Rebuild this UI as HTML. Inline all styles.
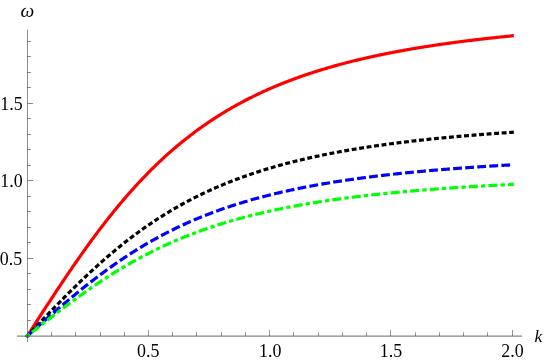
<!DOCTYPE html>
<html><head><meta charset="utf-8"><title>plot</title>
<style>
html,body{margin:0;padding:0;background:#fff;}
body{width:545px;height:361px;overflow:hidden;font-family:"Liberation Serif",serif;}
svg{display:block;will-change:transform;}
.lbl text{font-family:"Liberation Serif",serif;font-size:17.9px;}
.lbl text.it{font-style:italic;font-size:17.5px;}
</style></head><body>
<svg width="545" height="361" viewBox="0 0 545 361">
<rect width="545" height="361" fill="#fff"/>
<path d="M27.45,335.80 L28.42,334.29 L29.39,332.78 L30.36,331.27 L31.33,329.76 L32.30,328.25 L33.27,326.75 L34.24,325.24 L35.21,323.73 L36.18,322.22 L37.15,320.72 L38.12,319.21 L39.09,317.71 L40.05,316.21 L41.02,314.71 L41.99,313.21 L42.96,311.71 L43.93,310.21 L44.90,308.72 L45.87,307.23 L46.84,305.73 L47.81,304.24 L48.78,302.76 L49.75,301.27 L50.72,299.79 L51.69,298.31 L52.66,296.83 L53.63,295.35 L54.60,293.88 L55.57,292.41 L56.54,290.94 L57.51,289.47 L58.48,288.01 L59.45,286.55 L60.42,285.09 L61.39,283.64 L62.36,282.19 L63.33,280.74 L64.29,279.30 L65.26,277.85 L66.23,276.42 L67.20,274.98 L68.17,273.55 L69.14,272.13 L70.11,270.70 L71.08,269.29 L72.05,267.87 L73.02,266.46 L73.99,265.05 L74.96,263.65 L75.93,262.25 L76.90,260.86 L77.87,259.47 L78.84,258.08 L79.81,256.70 L80.78,255.32 L81.75,253.95 L82.72,252.58 L83.69,251.22 L84.66,249.86 L85.63,248.51 L86.60,247.16 L87.57,245.82 L88.53,244.48 L89.50,243.14 L90.47,241.81 L91.44,240.49 L92.41,239.17 L93.38,237.86 L94.35,236.55 L95.32,235.25 L96.29,233.95 L97.26,232.66 L98.23,231.37 L99.20,230.09 L100.17,228.81 L101.14,227.54 L102.11,226.27 L103.08,225.01 L104.05,223.76 L105.02,222.51 L105.99,221.27 L106.96,220.03 L107.93,218.80 L108.90,217.57 L109.87,216.35 L110.84,215.14 L111.81,213.93 L112.77,212.72 L113.74,211.53 L114.71,210.34 L115.68,209.15 L116.65,207.97 L117.62,206.80 L118.59,205.63 L119.56,204.47 L120.53,203.31 L121.50,202.16 L122.47,201.01 L123.44,199.88 L124.41,198.74 L125.38,197.62 L126.35,196.50 L127.32,195.38 L128.29,194.27 L129.26,193.17 L130.23,192.07 L131.20,190.98 L132.17,189.90 L133.14,188.82 L134.11,187.75 L135.08,186.68 L136.05,185.62 L137.01,184.56 L137.98,183.51 L138.95,182.47 L139.92,181.43 L140.89,180.40 L141.86,179.38 L142.83,178.36 L143.80,177.35 L144.77,176.34 L145.74,175.34 L146.71,174.34 L147.68,173.35 L148.65,172.37 L149.62,171.39 L150.59,170.42 L151.56,169.45 L152.53,168.49 L153.50,167.54 L154.47,166.59 L155.44,165.65 L156.41,164.71 L157.38,163.78 L158.35,162.86 L159.32,161.94 L160.29,161.02 L161.25,160.11 L162.22,159.21 L163.19,158.32 L164.16,157.42 L165.13,156.54 L166.10,155.66 L167.07,154.78 L168.04,153.92 L169.01,153.05 L169.98,152.20 L170.95,151.34 L171.92,150.50 L172.89,149.66 L173.86,148.82 L174.83,147.99 L175.80,147.16 L176.77,146.34 L177.74,145.53 L178.71,144.72 L179.68,143.92 L180.65,143.12 L181.62,142.33 L182.59,141.54 L183.56,140.76 L184.53,139.98 L185.49,139.21 L186.46,138.44 L187.43,137.68 L188.40,136.92 L189.37,136.17 L190.34,135.42 L191.31,134.68 L192.28,133.94 L193.25,133.21 L194.22,132.48 L195.19,131.76 L196.16,131.04 L197.13,130.33 L198.10,129.62 L199.07,128.92 L200.04,128.22 L201.01,127.53 L201.98,126.84 L202.95,126.15 L203.92,125.48 L204.89,124.80 L205.86,124.13 L206.83,123.46 L207.80,122.80 L208.77,122.15 L209.73,121.49 L210.70,120.85 L211.67,120.20 L212.64,119.56 L213.61,118.93 L214.58,118.30 L215.55,117.67 L216.52,117.05 L217.49,116.44 L218.46,115.82 L219.43,115.21 L220.40,114.61 L221.37,114.01 L222.34,113.41 L223.31,112.82 L224.28,112.23 L225.25,111.65 L226.22,111.07 L227.19,110.49 L228.16,109.92 L229.13,109.35 L230.10,108.79 L231.07,108.23 L232.04,107.67 L233.01,107.12 L233.97,106.57 L234.94,106.02 L235.91,105.48 L236.88,104.95 L237.85,104.41 L238.82,103.88 L239.79,103.36 L240.76,102.83 L241.73,102.31 L242.70,101.80 L243.67,101.29 L244.64,100.78 L245.61,100.27 L246.58,99.77 L247.55,99.27 L248.52,98.78 L249.49,98.29 L250.46,97.80 L251.43,97.31 L252.40,96.83 L253.37,96.36 L254.34,95.88 L255.31,95.41 L256.28,94.94 L257.25,94.48 L258.21,94.02 L259.18,93.56 L260.15,93.10 L261.12,92.65 L262.09,92.20 L263.06,91.75 L264.03,91.31 L265.00,90.87 L265.97,90.44 L266.94,90.00 L267.91,89.57 L268.88,89.14 L269.85,88.72 L270.82,88.30 L271.79,87.88 L272.76,87.46 L273.73,87.05 L274.70,86.64 L275.67,86.23 L276.64,85.82 L277.61,85.42 L278.58,85.02 L279.55,84.62 L280.52,84.23 L281.49,83.84 L282.45,83.45 L283.42,83.06 L284.39,82.68 L285.36,82.30 L286.33,81.92 L287.30,81.54 L288.27,81.17 L289.24,80.80 L290.21,80.43 L291.18,80.06 L292.15,79.70 L293.12,79.34 L294.09,78.98 L295.06,78.63 L296.03,78.27 L297.00,77.92 L297.97,77.57 L298.94,77.22 L299.91,76.88 L300.88,76.54 L301.85,76.20 L302.82,75.86 L303.79,75.53 L304.76,75.19 L305.73,74.86 L306.69,74.53 L307.66,74.21 L308.63,73.88 L309.60,73.56 L310.57,73.24 L311.54,72.92 L312.51,72.61 L313.48,72.29 L314.45,71.98 L315.42,71.67 L316.39,71.36 L317.36,71.06 L318.33,70.75 L319.30,70.45 L320.27,70.15 L321.24,69.86 L322.21,69.56 L323.18,69.27 L324.15,68.97 L325.12,68.68 L326.09,68.40 L327.06,68.11 L328.03,67.83 L329.00,67.54 L329.97,67.26 L330.93,66.98 L331.90,66.71 L332.87,66.43 L333.84,66.16 L334.81,65.89 L335.78,65.62 L336.75,65.35 L337.72,65.08 L338.69,64.82 L339.66,64.55 L340.63,64.29 L341.60,64.03 L342.57,63.77 L343.54,63.52 L344.51,63.26 L345.48,63.01 L346.45,62.76 L347.42,62.51 L348.39,62.26 L349.36,62.01 L350.33,61.77 L351.30,61.52 L352.27,61.28 L353.24,61.04 L354.21,60.80 L355.17,60.56 L356.14,60.33 L357.11,60.09 L358.08,59.86 L359.05,59.63 L360.02,59.40 L360.99,59.17 L361.96,58.94 L362.93,58.72 L363.90,58.49 L364.87,58.27 L365.84,58.05 L366.81,57.83 L367.78,57.61 L368.75,57.39 L369.72,57.17 L370.69,56.96 L371.66,56.74 L372.63,56.53 L373.60,56.32 L374.57,56.11 L375.54,55.90 L376.51,55.69 L377.48,55.49 L378.45,55.28 L379.41,55.08 L380.38,54.88 L381.35,54.68 L382.32,54.48 L383.29,54.28 L384.26,54.08 L385.23,53.88 L386.20,53.69 L387.17,53.50 L388.14,53.30 L389.11,53.11 L390.08,52.92 L391.05,52.73 L392.02,52.54 L392.99,52.36 L393.96,52.17 L394.93,51.99 L395.90,51.80 L396.87,51.62 L397.84,51.44 L398.81,51.26 L399.78,51.08 L400.75,50.90 L401.72,50.72 L402.69,50.55 L403.65,50.37 L404.62,50.20 L405.59,50.02 L406.56,49.85 L407.53,49.68 L408.50,49.51 L409.47,49.34 L410.44,49.17 L411.41,49.01 L412.38,48.84 L413.35,48.67 L414.32,48.51 L415.29,48.35 L416.26,48.18 L417.23,48.02 L418.20,47.86 L419.17,47.70 L420.14,47.54 L421.11,47.39 L422.08,47.23 L423.05,47.07 L424.02,46.92 L424.99,46.76 L425.96,46.61 L426.93,46.46 L427.89,46.31 L428.86,46.16 L429.83,46.01 L430.80,45.86 L431.77,45.71 L432.74,45.56 L433.71,45.42 L434.68,45.27 L435.65,45.13 L436.62,44.98 L437.59,44.84 L438.56,44.70 L439.53,44.55 L440.50,44.41 L441.47,44.27 L442.44,44.13 L443.41,44.00 L444.38,43.86 L445.35,43.72 L446.32,43.58 L447.29,43.45 L448.26,43.31 L449.23,43.18 L450.20,43.05 L451.17,42.92 L452.13,42.78 L453.10,42.65 L454.07,42.52 L455.04,42.39 L456.01,42.26 L456.98,42.14 L457.95,42.01 L458.92,41.88 L459.89,41.76 L460.86,41.63 L461.83,41.51 L462.80,41.38 L463.77,41.26 L464.74,41.14 L465.71,41.01 L466.68,40.89 L467.65,40.77 L468.62,40.65 L469.59,40.53 L470.56,40.41 L471.53,40.29 L472.50,40.18 L473.47,40.06 L474.44,39.94 L475.41,39.83 L476.37,39.71 L477.34,39.60 L478.31,39.48 L479.28,39.37 L480.25,39.26 L481.22,39.15 L482.19,39.04 L483.16,38.92 L484.13,38.81 L485.10,38.70 L486.07,38.60 L487.04,38.49 L488.01,38.38 L488.98,38.27 L489.95,38.16 L490.92,38.06 L491.89,37.95 L492.86,37.85 L493.83,37.74 L494.80,37.64 L495.77,37.54 L496.74,37.43 L497.71,37.33 L498.68,37.23 L499.65,37.13 L500.61,37.03 L501.58,36.92 L502.55,36.82 L503.52,36.73 L504.49,36.63 L505.46,36.53 L506.43,36.43 L507.40,36.33 L508.37,36.24 L509.34,36.14 L510.31,36.04 L511.28,35.95 L512.25,35.85" fill="none" stroke="#ff0000" stroke-width="3.2" stroke-linecap="square" stroke-linejoin="round"/>
<path d="M27.45,335.80 L28.42,334.78 L29.39,333.75 L30.36,332.73 L31.33,331.70 L32.30,330.68 L33.27,329.66 L34.24,328.63 L35.21,327.61 L36.18,326.59 L37.15,325.57 L38.12,324.55 L39.09,323.53 L40.05,322.51 L41.02,321.49 L41.99,320.47 L42.96,319.46 L43.93,318.44 L44.90,317.43 L45.87,316.41 L46.84,315.40 L47.81,314.39 L48.78,313.38 L49.75,312.37 L50.72,311.37 L51.69,310.36 L52.66,309.36 L53.63,308.36 L54.60,307.36 L55.57,306.36 L56.54,305.36 L57.51,304.37 L58.48,303.38 L59.45,302.39 L60.42,301.40 L61.39,300.41 L62.36,299.43 L63.33,298.44 L64.29,297.46 L65.26,296.49 L66.23,295.51 L67.20,294.54 L68.17,293.57 L69.14,292.60 L70.11,291.64 L71.08,290.67 L72.05,289.71 L73.02,288.76 L73.99,287.80 L74.96,286.85 L75.93,285.90 L76.90,284.96 L77.87,284.01 L78.84,283.07 L79.81,282.14 L80.78,281.20 L81.75,280.27 L82.72,279.34 L83.69,278.42 L84.66,277.50 L85.63,276.58 L86.60,275.66 L87.57,274.75 L88.53,273.84 L89.50,272.94 L90.47,272.04 L91.44,271.14 L92.41,270.24 L93.38,269.35 L94.35,268.46 L95.32,267.58 L96.29,266.70 L97.26,265.82 L98.23,264.95 L99.20,264.08 L100.17,263.21 L101.14,262.35 L102.11,261.49 L103.08,260.64 L104.05,259.79 L105.02,258.94 L105.99,258.10 L106.96,257.26 L107.93,256.42 L108.90,255.59 L109.87,254.76 L110.84,253.94 L111.81,253.12 L112.77,252.30 L113.74,251.49 L114.71,250.68 L115.68,249.88 L116.65,249.07 L117.62,248.28 L118.59,247.49 L119.56,246.70 L120.53,245.91 L121.50,245.13 L122.47,244.36 L123.44,243.58 L124.41,242.82 L125.38,242.05 L126.35,241.29 L127.32,240.53 L128.29,239.78 L129.26,239.03 L130.23,238.29 L131.20,237.55 L132.17,236.81 L133.14,236.08 L134.11,235.35 L135.08,234.63 L136.05,233.91 L137.01,233.20 L137.98,232.48 L138.95,231.78 L139.92,231.07 L140.89,230.37 L141.86,229.68 L142.83,228.99 L143.80,228.30 L144.77,227.62 L145.74,226.94 L146.71,226.26 L147.68,225.59 L148.65,224.92 L149.62,224.26 L150.59,223.60 L151.56,222.94 L152.53,222.29 L153.50,221.65 L154.47,221.00 L155.44,220.36 L156.41,219.73 L157.38,219.10 L158.35,218.47 L159.32,217.84 L160.29,217.22 L161.25,216.61 L162.22,216.00 L163.19,215.39 L164.16,214.78 L165.13,214.18 L166.10,213.59 L167.07,212.99 L168.04,212.40 L169.01,211.82 L169.98,211.24 L170.95,210.66 L171.92,210.08 L172.89,209.51 L173.86,208.94 L174.83,208.38 L175.80,207.82 L176.77,207.27 L177.74,206.71 L178.71,206.16 L179.68,205.62 L180.65,205.08 L181.62,204.54 L182.59,204.01 L183.56,203.47 L184.53,202.95 L185.49,202.42 L186.46,201.90 L187.43,201.39 L188.40,200.87 L189.37,200.36 L190.34,199.85 L191.31,199.35 L192.28,198.85 L193.25,198.35 L194.22,197.86 L195.19,197.37 L196.16,196.88 L197.13,196.40 L198.10,195.92 L199.07,195.44 L200.04,194.97 L201.01,194.50 L201.98,194.03 L202.95,193.57 L203.92,193.11 L204.89,192.65 L205.86,192.19 L206.83,191.74 L207.80,191.29 L208.77,190.85 L209.73,190.41 L210.70,189.97 L211.67,189.53 L212.64,189.10 L213.61,188.67 L214.58,188.24 L215.55,187.82 L216.52,187.39 L217.49,186.97 L218.46,186.56 L219.43,186.15 L220.40,185.74 L221.37,185.33 L222.34,184.92 L223.31,184.52 L224.28,184.12 L225.25,183.73 L226.22,183.33 L227.19,182.94 L228.16,182.55 L229.13,182.17 L230.10,181.79 L231.07,181.41 L232.04,181.03 L233.01,180.65 L233.97,180.28 L234.94,179.91 L235.91,179.54 L236.88,179.18 L237.85,178.82 L238.82,178.46 L239.79,178.10 L240.76,177.75 L241.73,177.39 L242.70,177.04 L243.67,176.70 L244.64,176.35 L245.61,176.01 L246.58,175.67 L247.55,175.33 L248.52,175.00 L249.49,174.66 L250.46,174.33 L251.43,174.00 L252.40,173.68 L253.37,173.35 L254.34,173.03 L255.31,172.71 L256.28,172.39 L257.25,172.08 L258.21,171.76 L259.18,171.45 L260.15,171.14 L261.12,170.84 L262.09,170.53 L263.06,170.23 L264.03,169.93 L265.00,169.63 L265.97,169.33 L266.94,169.04 L267.91,168.75 L268.88,168.46 L269.85,168.17 L270.82,167.88 L271.79,167.60 L272.76,167.32 L273.73,167.04 L274.70,166.76 L275.67,166.48 L276.64,166.21 L277.61,165.93 L278.58,165.66 L279.55,165.39 L280.52,165.12 L281.49,164.86 L282.45,164.59 L283.42,164.33 L284.39,164.07 L285.36,163.81 L286.33,163.56 L287.30,163.30 L288.27,163.05 L289.24,162.80 L290.21,162.55 L291.18,162.30 L292.15,162.05 L293.12,161.81 L294.09,161.56 L295.06,161.32 L296.03,161.08 L297.00,160.84 L297.97,160.61 L298.94,160.37 L299.91,160.14 L300.88,159.91 L301.85,159.68 L302.82,159.45 L303.79,159.22 L304.76,158.99 L305.73,158.77 L306.69,158.55 L307.66,158.32 L308.63,158.10 L309.60,157.89 L310.57,157.67 L311.54,157.45 L312.51,157.24 L313.48,157.03 L314.45,156.81 L315.42,156.60 L316.39,156.40 L317.36,156.19 L318.33,155.98 L319.30,155.78 L320.27,155.57 L321.24,155.37 L322.21,155.17 L323.18,154.97 L324.15,154.77 L325.12,154.58 L326.09,154.38 L327.06,154.19 L328.03,154.00 L329.00,153.80 L329.97,153.61 L330.93,153.42 L331.90,153.24 L332.87,153.05 L333.84,152.86 L334.81,152.68 L335.78,152.50 L336.75,152.31 L337.72,152.13 L338.69,151.95 L339.66,151.78 L340.63,151.60 L341.60,151.42 L342.57,151.25 L343.54,151.07 L344.51,150.90 L345.48,150.73 L346.45,150.56 L347.42,150.39 L348.39,150.22 L349.36,150.05 L350.33,149.89 L351.30,149.72 L352.27,149.56 L353.24,149.39 L354.21,149.23 L355.17,149.07 L356.14,148.91 L357.11,148.75 L358.08,148.59 L359.05,148.43 L360.02,148.28 L360.99,148.12 L361.96,147.97 L362.93,147.82 L363.90,147.66 L364.87,147.51 L365.84,147.36 L366.81,147.21 L367.78,147.06 L368.75,146.91 L369.72,146.77 L370.69,146.62 L371.66,146.48 L372.63,146.33 L373.60,146.19 L374.57,146.05 L375.54,145.91 L376.51,145.77 L377.48,145.63 L378.45,145.49 L379.41,145.35 L380.38,145.21 L381.35,145.07 L382.32,144.94 L383.29,144.80 L384.26,144.67 L385.23,144.54 L386.20,144.40 L387.17,144.27 L388.14,144.14 L389.11,144.01 L390.08,143.88 L391.05,143.76 L392.02,143.63 L392.99,143.50 L393.96,143.37 L394.93,143.25 L395.90,143.12 L396.87,143.00 L397.84,142.88 L398.81,142.75 L399.78,142.63 L400.75,142.51 L401.72,142.39 L402.69,142.27 L403.65,142.15 L404.62,142.04 L405.59,141.92 L406.56,141.80 L407.53,141.69 L408.50,141.57 L409.47,141.45 L410.44,141.34 L411.41,141.23 L412.38,141.11 L413.35,141.00 L414.32,140.89 L415.29,140.78 L416.26,140.67 L417.23,140.56 L418.20,140.45 L419.17,140.34 L420.14,140.24 L421.11,140.13 L422.08,140.02 L423.05,139.92 L424.02,139.81 L424.99,139.71 L425.96,139.60 L426.93,139.50 L427.89,139.40 L428.86,139.29 L429.83,139.19 L430.80,139.09 L431.77,138.99 L432.74,138.89 L433.71,138.79 L434.68,138.69 L435.65,138.59 L436.62,138.50 L437.59,138.40 L438.56,138.30 L439.53,138.21 L440.50,138.11 L441.47,138.02 L442.44,137.92 L443.41,137.83 L444.38,137.74 L445.35,137.64 L446.32,137.55 L447.29,137.46 L448.26,137.37 L449.23,137.28 L450.20,137.19 L451.17,137.10 L452.13,137.01 L453.10,136.92 L454.07,136.83 L455.04,136.74 L456.01,136.65 L456.98,136.57 L457.95,136.48 L458.92,136.39 L459.89,136.31 L460.86,136.22 L461.83,136.14 L462.80,136.05 L463.77,135.97 L464.74,135.89 L465.71,135.80 L466.68,135.72 L467.65,135.64 L468.62,135.56 L469.59,135.48 L470.56,135.40 L471.53,135.32 L472.50,135.24 L473.47,135.16 L474.44,135.08 L475.41,135.00 L476.37,134.92 L477.34,134.85 L478.31,134.77 L479.28,134.69 L480.25,134.61 L481.22,134.54 L482.19,134.46 L483.16,134.39 L484.13,134.31 L485.10,134.24 L486.07,134.16 L487.04,134.09 L488.01,134.02 L488.98,133.94 L489.95,133.87 L490.92,133.80 L491.89,133.73 L492.86,133.66 L493.83,133.59 L494.80,133.52 L495.77,133.45 L496.74,133.38 L497.71,133.31 L498.68,133.24 L499.65,133.17 L500.61,133.10 L501.58,133.03 L502.55,132.96 L503.52,132.90 L504.49,132.83 L505.46,132.76 L506.43,132.70 L507.40,132.63 L508.37,132.56 L509.34,132.50 L510.31,132.43 L511.28,132.37 L512.25,132.30" fill="none" stroke="#000000" stroke-width="3.2" stroke-dasharray="1.7 5.846" stroke-dashoffset="0.25" stroke-linecap="square" stroke-linejoin="round"/>
<path d="M27.45,335.80 L28.42,334.94 L29.39,334.08 L30.36,333.22 L31.33,332.36 L32.30,331.50 L33.27,330.64 L34.24,329.78 L35.21,328.92 L36.18,328.06 L37.15,327.20 L38.12,326.35 L39.09,325.49 L40.05,324.63 L41.02,323.78 L41.99,322.92 L42.96,322.07 L43.93,321.22 L44.90,320.36 L45.87,319.51 L46.84,318.66 L47.81,317.81 L48.78,316.96 L49.75,316.12 L50.72,315.27 L51.69,314.43 L52.66,313.59 L53.63,312.74 L54.60,311.90 L55.57,311.06 L56.54,310.23 L57.51,309.39 L58.48,308.56 L59.45,307.73 L60.42,306.90 L61.39,306.07 L62.36,305.24 L63.33,304.41 L64.29,303.59 L65.26,302.77 L66.23,301.95 L67.20,301.13 L68.17,300.32 L69.14,299.50 L70.11,298.69 L71.08,297.89 L72.05,297.08 L73.02,296.27 L73.99,295.47 L74.96,294.67 L75.93,293.88 L76.90,293.08 L77.87,292.29 L78.84,291.50 L79.81,290.71 L80.78,289.93 L81.75,289.14 L82.72,288.36 L83.69,287.59 L84.66,286.81 L85.63,286.04 L86.60,285.27 L87.57,284.51 L88.53,283.74 L89.50,282.98 L90.47,282.23 L91.44,281.47 L92.41,280.72 L93.38,279.97 L94.35,279.22 L95.32,278.48 L96.29,277.74 L97.26,277.01 L98.23,276.27 L99.20,275.54 L100.17,274.81 L101.14,274.09 L102.11,273.37 L103.08,272.65 L104.05,271.93 L105.02,271.22 L105.99,270.51 L106.96,269.81 L107.93,269.11 L108.90,268.41 L109.87,267.71 L110.84,267.02 L111.81,266.33 L112.77,265.64 L113.74,264.96 L114.71,264.28 L115.68,263.61 L116.65,262.93 L117.62,262.26 L118.59,261.60 L119.56,260.94 L120.53,260.28 L121.50,259.62 L122.47,258.97 L123.44,258.32 L124.41,257.67 L125.38,257.03 L126.35,256.39 L127.32,255.76 L128.29,255.13 L129.26,254.50 L130.23,253.87 L131.20,253.25 L132.17,252.63 L133.14,252.02 L134.11,251.41 L135.08,250.80 L136.05,250.19 L137.01,249.59 L137.98,248.99 L138.95,248.40 L139.92,247.81 L140.89,247.22 L141.86,246.64 L142.83,246.06 L143.80,245.48 L144.77,244.90 L145.74,244.33 L146.71,243.77 L147.68,243.20 L148.65,242.64 L149.62,242.08 L150.59,241.53 L151.56,240.98 L152.53,240.43 L153.50,239.89 L154.47,239.35 L155.44,238.81 L156.41,238.28 L157.38,237.75 L158.35,237.22 L159.32,236.69 L160.29,236.17 L161.25,235.66 L162.22,235.14 L163.19,234.63 L164.16,234.12 L165.13,233.62 L166.10,233.12 L167.07,232.62 L168.04,232.12 L169.01,231.63 L169.98,231.14 L170.95,230.66 L171.92,230.17 L172.89,229.69 L173.86,229.22 L174.83,228.74 L175.80,228.27 L176.77,227.81 L177.74,227.34 L178.71,226.88 L179.68,226.42 L180.65,225.97 L181.62,225.52 L182.59,225.07 L183.56,224.62 L184.53,224.18 L185.49,223.74 L186.46,223.30 L187.43,222.87 L188.40,222.43 L189.37,222.01 L190.34,221.58 L191.31,221.16 L192.28,220.74 L193.25,220.32 L194.22,219.90 L195.19,219.49 L196.16,219.08 L197.13,218.68 L198.10,218.27 L199.07,217.87 L200.04,217.48 L201.01,217.08 L201.98,216.69 L202.95,216.30 L203.92,215.91 L204.89,215.53 L205.86,215.14 L206.83,214.76 L207.80,214.39 L208.77,214.01 L209.73,213.64 L210.70,213.27 L211.67,212.91 L212.64,212.54 L213.61,212.18 L214.58,211.82 L215.55,211.46 L216.52,211.11 L217.49,210.76 L218.46,210.41 L219.43,210.06 L220.40,209.72 L221.37,209.37 L222.34,209.03 L223.31,208.70 L224.28,208.36 L225.25,208.03 L226.22,207.70 L227.19,207.37 L228.16,207.04 L229.13,206.72 L230.10,206.40 L231.07,206.08 L232.04,205.76 L233.01,205.45 L233.97,205.13 L234.94,204.82 L235.91,204.51 L236.88,204.21 L237.85,203.90 L238.82,203.60 L239.79,203.30 L240.76,203.00 L241.73,202.71 L242.70,202.41 L243.67,202.12 L244.64,201.83 L245.61,201.54 L246.58,201.26 L247.55,200.97 L248.52,200.69 L249.49,200.41 L250.46,200.13 L251.43,199.86 L252.40,199.58 L253.37,199.31 L254.34,199.04 L255.31,198.77 L256.28,198.51 L257.25,198.24 L258.21,197.98 L259.18,197.72 L260.15,197.46 L261.12,197.20 L262.09,196.94 L263.06,196.69 L264.03,196.44 L265.00,196.19 L265.97,195.94 L266.94,195.69 L267.91,195.44 L268.88,195.20 L269.85,194.96 L270.82,194.72 L271.79,194.48 L272.76,194.24 L273.73,194.01 L274.70,193.77 L275.67,193.54 L276.64,193.31 L277.61,193.08 L278.58,192.85 L279.55,192.62 L280.52,192.40 L281.49,192.18 L282.45,191.95 L283.42,191.73 L284.39,191.52 L285.36,191.30 L286.33,191.08 L287.30,190.87 L288.27,190.66 L289.24,190.44 L290.21,190.23 L291.18,190.03 L292.15,189.82 L293.12,189.61 L294.09,189.41 L295.06,189.21 L296.03,189.00 L297.00,188.80 L297.97,188.60 L298.94,188.41 L299.91,188.21 L300.88,188.02 L301.85,187.82 L302.82,187.63 L303.79,187.44 L304.76,187.25 L305.73,187.06 L306.69,186.87 L307.66,186.69 L308.63,186.50 L309.60,186.32 L310.57,186.14 L311.54,185.95 L312.51,185.77 L313.48,185.60 L314.45,185.42 L315.42,185.24 L316.39,185.07 L317.36,184.89 L318.33,184.72 L319.30,184.55 L320.27,184.38 L321.24,184.21 L322.21,184.04 L323.18,183.87 L324.15,183.70 L325.12,183.54 L326.09,183.37 L327.06,183.21 L328.03,183.05 L329.00,182.89 L329.97,182.73 L330.93,182.57 L331.90,182.41 L332.87,182.25 L333.84,182.10 L334.81,181.94 L335.78,181.79 L336.75,181.64 L337.72,181.48 L338.69,181.33 L339.66,181.18 L340.63,181.04 L341.60,180.89 L342.57,180.74 L343.54,180.59 L344.51,180.45 L345.48,180.30 L346.45,180.16 L347.42,180.02 L348.39,179.88 L349.36,179.74 L350.33,179.60 L351.30,179.46 L352.27,179.32 L353.24,179.18 L354.21,179.05 L355.17,178.91 L356.14,178.78 L357.11,178.64 L358.08,178.51 L359.05,178.38 L360.02,178.25 L360.99,178.11 L361.96,177.99 L362.93,177.86 L363.90,177.73 L364.87,177.60 L365.84,177.47 L366.81,177.35 L367.78,177.22 L368.75,177.10 L369.72,176.98 L370.69,176.85 L371.66,176.73 L372.63,176.61 L373.60,176.49 L374.57,176.37 L375.54,176.25 L376.51,176.13 L377.48,176.02 L378.45,175.90 L379.41,175.78 L380.38,175.67 L381.35,175.55 L382.32,175.44 L383.29,175.33 L384.26,175.21 L385.23,175.10 L386.20,174.99 L387.17,174.88 L388.14,174.77 L389.11,174.66 L390.08,174.55 L391.05,174.45 L392.02,174.34 L392.99,174.23 L393.96,174.13 L394.93,174.02 L395.90,173.92 L396.87,173.81 L397.84,173.71 L398.81,173.60 L399.78,173.50 L400.75,173.40 L401.72,173.30 L402.69,173.20 L403.65,173.10 L404.62,173.00 L405.59,172.90 L406.56,172.80 L407.53,172.71 L408.50,172.61 L409.47,172.51 L410.44,172.42 L411.41,172.32 L412.38,172.23 L413.35,172.13 L414.32,172.04 L415.29,171.95 L416.26,171.85 L417.23,171.76 L418.20,171.67 L419.17,171.58 L420.14,171.49 L421.11,171.40 L422.08,171.31 L423.05,171.22 L424.02,171.13 L424.99,171.04 L425.96,170.96 L426.93,170.87 L427.89,170.78 L428.86,170.70 L429.83,170.61 L430.80,170.53 L431.77,170.44 L432.74,170.36 L433.71,170.28 L434.68,170.19 L435.65,170.11 L436.62,170.03 L437.59,169.95 L438.56,169.86 L439.53,169.78 L440.50,169.70 L441.47,169.62 L442.44,169.54 L443.41,169.47 L444.38,169.39 L445.35,169.31 L446.32,169.23 L447.29,169.15 L448.26,169.08 L449.23,169.00 L450.20,168.93 L451.17,168.85 L452.13,168.77 L453.10,168.70 L454.07,168.63 L455.04,168.55 L456.01,168.48 L456.98,168.41 L457.95,168.33 L458.92,168.26 L459.89,168.19 L460.86,168.12 L461.83,168.05 L462.80,167.98 L463.77,167.90 L464.74,167.84 L465.71,167.77 L466.68,167.70 L467.65,167.63 L468.62,167.56 L469.59,167.49 L470.56,167.42 L471.53,167.36 L472.50,167.29 L473.47,167.22 L474.44,167.16 L475.41,167.09 L476.37,167.02 L477.34,166.96 L478.31,166.89 L479.28,166.83 L480.25,166.77 L481.22,166.70 L482.19,166.64 L483.16,166.57 L484.13,166.51 L485.10,166.45 L486.07,166.39 L487.04,166.33 L488.01,166.26 L488.98,166.20 L489.95,166.14 L490.92,166.08 L491.89,166.02 L492.86,165.96 L493.83,165.90 L494.80,165.84 L495.77,165.78 L496.74,165.72 L497.71,165.67 L498.68,165.61 L499.65,165.55 L500.61,165.49 L501.58,165.43 L502.55,165.38 L503.52,165.32 L504.49,165.26 L505.46,165.21 L506.43,165.15 L507.40,165.10 L508.37,165.04 L509.34,164.99 L510.31,164.93 L511.28,164.88 L512.25,164.82" fill="none" stroke="#0000ff" stroke-width="3.2" stroke-dasharray="5.6 6.473" stroke-linecap="square" stroke-linejoin="round"/>
<path d="M27.45,335.80 L28.42,335.04 L29.39,334.28 L30.36,333.51 L31.33,332.75 L32.30,331.99 L33.27,331.23 L34.24,330.47 L35.21,329.71 L36.18,328.95 L37.15,328.19 L38.12,327.43 L39.09,326.67 L40.05,325.91 L41.02,325.15 L41.99,324.40 L42.96,323.64 L43.93,322.89 L44.90,322.13 L45.87,321.38 L46.84,320.63 L47.81,319.87 L48.78,319.12 L49.75,318.37 L50.72,317.62 L51.69,316.88 L52.66,316.13 L53.63,315.38 L54.60,314.64 L55.57,313.90 L56.54,313.16 L57.51,312.42 L58.48,311.68 L59.45,310.94 L60.42,310.21 L61.39,309.47 L62.36,308.74 L63.33,308.01 L64.29,307.28 L65.26,306.55 L66.23,305.83 L67.20,305.10 L68.17,304.38 L69.14,303.66 L70.11,302.94 L71.08,302.23 L72.05,301.51 L73.02,300.80 L73.99,300.09 L74.96,299.38 L75.93,298.68 L76.90,297.97 L77.87,297.27 L78.84,296.57 L79.81,295.88 L80.78,295.18 L81.75,294.49 L82.72,293.80 L83.69,293.11 L84.66,292.42 L85.63,291.74 L86.60,291.06 L87.57,290.38 L88.53,289.71 L89.50,289.03 L90.47,288.36 L91.44,287.69 L92.41,287.03 L93.38,286.37 L94.35,285.71 L95.32,285.05 L96.29,284.39 L97.26,283.74 L98.23,283.09 L99.20,282.44 L100.17,281.80 L101.14,281.16 L102.11,280.52 L103.08,279.88 L104.05,279.25 L105.02,278.62 L105.99,277.99 L106.96,277.37 L107.93,276.75 L108.90,276.13 L109.87,275.51 L110.84,274.90 L111.81,274.29 L112.77,273.68 L113.74,273.08 L114.71,272.48 L115.68,271.88 L116.65,271.28 L117.62,270.69 L118.59,270.10 L119.56,269.51 L120.53,268.93 L121.50,268.35 L122.47,267.77 L123.44,267.20 L124.41,266.62 L125.38,266.06 L126.35,265.49 L127.32,264.93 L128.29,264.37 L129.26,263.81 L130.23,263.26 L131.20,262.71 L132.17,262.16 L133.14,261.62 L134.11,261.07 L135.08,260.54 L136.05,260.00 L137.01,259.47 L137.98,258.94 L138.95,258.41 L139.92,257.89 L140.89,257.37 L141.86,256.85 L142.83,256.34 L143.80,255.83 L144.77,255.32 L145.74,254.81 L146.71,254.31 L147.68,253.81 L148.65,253.31 L149.62,252.82 L150.59,252.33 L151.56,251.84 L152.53,251.36 L153.50,250.88 L154.47,250.40 L155.44,249.92 L156.41,249.45 L157.38,248.98 L158.35,248.51 L159.32,248.05 L160.29,247.59 L161.25,247.13 L162.22,246.67 L163.19,246.22 L164.16,245.77 L165.13,245.32 L166.10,244.88 L167.07,244.44 L168.04,244.00 L169.01,243.56 L169.98,243.13 L170.95,242.70 L171.92,242.27 L172.89,241.85 L173.86,241.43 L174.83,241.01 L175.80,240.59 L176.77,240.18 L177.74,239.77 L178.71,239.36 L179.68,238.95 L180.65,238.55 L181.62,238.15 L182.59,237.75 L183.56,237.36 L184.53,236.96 L185.49,236.57 L186.46,236.19 L187.43,235.80 L188.40,235.42 L189.37,235.04 L190.34,234.66 L191.31,234.29 L192.28,233.92 L193.25,233.55 L194.22,233.18 L195.19,232.82 L196.16,232.45 L197.13,232.09 L198.10,231.74 L199.07,231.38 L200.04,231.03 L201.01,230.68 L201.98,230.33 L202.95,229.99 L203.92,229.64 L204.89,229.30 L205.86,228.97 L206.83,228.63 L207.80,228.30 L208.77,227.96 L209.73,227.64 L210.70,227.31 L211.67,226.98 L212.64,226.66 L213.61,226.34 L214.58,226.02 L215.55,225.71 L216.52,225.39 L217.49,225.08 L218.46,224.77 L219.43,224.47 L220.40,224.16 L221.37,223.86 L222.34,223.56 L223.31,223.26 L224.28,222.96 L225.25,222.67 L226.22,222.37 L227.19,222.08 L228.16,221.79 L229.13,221.51 L230.10,221.22 L231.07,220.94 L232.04,220.66 L233.01,220.38 L233.97,220.10 L234.94,219.83 L235.91,219.55 L236.88,219.28 L237.85,219.01 L238.82,218.75 L239.79,218.48 L240.76,218.22 L241.73,217.95 L242.70,217.69 L243.67,217.44 L244.64,217.18 L245.61,216.92 L246.58,216.67 L247.55,216.42 L248.52,216.17 L249.49,215.92 L250.46,215.68 L251.43,215.43 L252.40,215.19 L253.37,214.95 L254.34,214.71 L255.31,214.47 L256.28,214.23 L257.25,214.00 L258.21,213.77 L259.18,213.53 L260.15,213.30 L261.12,213.08 L262.09,212.85 L263.06,212.62 L264.03,212.40 L265.00,212.18 L265.97,211.96 L266.94,211.74 L267.91,211.52 L268.88,211.31 L269.85,211.09 L270.82,210.88 L271.79,210.67 L272.76,210.46 L273.73,210.25 L274.70,210.04 L275.67,209.84 L276.64,209.63 L277.61,209.43 L278.58,209.23 L279.55,209.03 L280.52,208.83 L281.49,208.63 L282.45,208.43 L283.42,208.24 L284.39,208.04 L285.36,207.85 L286.33,207.66 L287.30,207.47 L288.27,207.28 L289.24,207.10 L290.21,206.91 L291.18,206.72 L292.15,206.54 L293.12,206.36 L294.09,206.18 L295.06,206.00 L296.03,205.82 L297.00,205.64 L297.97,205.47 L298.94,205.29 L299.91,205.12 L300.88,204.94 L301.85,204.77 L302.82,204.60 L303.79,204.43 L304.76,204.27 L305.73,204.10 L306.69,203.93 L307.66,203.77 L308.63,203.60 L309.60,203.44 L310.57,203.28 L311.54,203.12 L312.51,202.96 L313.48,202.80 L314.45,202.64 L315.42,202.49 L316.39,202.33 L317.36,202.18 L318.33,202.03 L319.30,201.87 L320.27,201.72 L321.24,201.57 L322.21,201.42 L323.18,201.27 L324.15,201.13 L325.12,200.98 L326.09,200.84 L327.06,200.69 L328.03,200.55 L329.00,200.40 L329.97,200.26 L330.93,200.12 L331.90,199.98 L332.87,199.84 L333.84,199.71 L334.81,199.57 L335.78,199.43 L336.75,199.30 L337.72,199.16 L338.69,199.03 L339.66,198.90 L340.63,198.76 L341.60,198.63 L342.57,198.50 L343.54,198.37 L344.51,198.24 L345.48,198.12 L346.45,197.99 L347.42,197.86 L348.39,197.74 L349.36,197.61 L350.33,197.49 L351.30,197.37 L352.27,197.24 L353.24,197.12 L354.21,197.00 L355.17,196.88 L356.14,196.76 L357.11,196.64 L358.08,196.53 L359.05,196.41 L360.02,196.29 L360.99,196.18 L361.96,196.06 L362.93,195.95 L363.90,195.84 L364.87,195.72 L365.84,195.61 L366.81,195.50 L367.78,195.39 L368.75,195.28 L369.72,195.17 L370.69,195.06 L371.66,194.95 L372.63,194.85 L373.60,194.74 L374.57,194.63 L375.54,194.53 L376.51,194.42 L377.48,194.32 L378.45,194.22 L379.41,194.11 L380.38,194.01 L381.35,193.91 L382.32,193.81 L383.29,193.71 L384.26,193.61 L385.23,193.51 L386.20,193.41 L387.17,193.31 L388.14,193.22 L389.11,193.12 L390.08,193.02 L391.05,192.93 L392.02,192.83 L392.99,192.74 L393.96,192.65 L394.93,192.55 L395.90,192.46 L396.87,192.37 L397.84,192.28 L398.81,192.18 L399.78,192.09 L400.75,192.00 L401.72,191.91 L402.69,191.83 L403.65,191.74 L404.62,191.65 L405.59,191.56 L406.56,191.48 L407.53,191.39 L408.50,191.30 L409.47,191.22 L410.44,191.13 L411.41,191.05 L412.38,190.96 L413.35,190.88 L414.32,190.80 L415.29,190.72 L416.26,190.63 L417.23,190.55 L418.20,190.47 L419.17,190.39 L420.14,190.31 L421.11,190.23 L422.08,190.15 L423.05,190.07 L424.02,190.00 L424.99,189.92 L425.96,189.84 L426.93,189.76 L427.89,189.69 L428.86,189.61 L429.83,189.53 L430.80,189.46 L431.77,189.38 L432.74,189.31 L433.71,189.24 L434.68,189.16 L435.65,189.09 L436.62,189.02 L437.59,188.94 L438.56,188.87 L439.53,188.80 L440.50,188.73 L441.47,188.66 L442.44,188.59 L443.41,188.52 L444.38,188.45 L445.35,188.38 L446.32,188.31 L447.29,188.24 L448.26,188.18 L449.23,188.11 L450.20,188.04 L451.17,187.97 L452.13,187.91 L453.10,187.84 L454.07,187.78 L455.04,187.71 L456.01,187.65 L456.98,187.58 L457.95,187.52 L458.92,187.45 L459.89,187.39 L460.86,187.33 L461.83,187.26 L462.80,187.20 L463.77,187.14 L464.74,187.08 L465.71,187.01 L466.68,186.95 L467.65,186.89 L468.62,186.83 L469.59,186.77 L470.56,186.71 L471.53,186.65 L472.50,186.59 L473.47,186.53 L474.44,186.47 L475.41,186.42 L476.37,186.36 L477.34,186.30 L478.31,186.24 L479.28,186.19 L480.25,186.13 L481.22,186.07 L482.19,186.02 L483.16,185.96 L484.13,185.90 L485.10,185.85 L486.07,185.79 L487.04,185.74 L488.01,185.68 L488.98,185.63 L489.95,185.58 L490.92,185.52 L491.89,185.47 L492.86,185.42 L493.83,185.36 L494.80,185.31 L495.77,185.26 L496.74,185.21 L497.71,185.16 L498.68,185.10 L499.65,185.05 L500.61,185.00 L501.58,184.95 L502.55,184.90 L503.52,184.85 L504.49,184.80 L505.46,184.75 L506.43,184.70 L507.40,184.65 L508.37,184.60 L509.34,184.55 L510.31,184.51 L511.28,184.46 L512.25,184.41" fill="none" stroke="#00ff00" stroke-width="3.2" stroke-dasharray="1.1 6.30 5.9 6.30" stroke-linecap="square" stroke-linejoin="round"/>
<g stroke="#333" fill="none">
<line x1="17" y1="336.1" x2="522" y2="336.1" stroke-width="0.75"/>
<line x1="27.5" y1="29.7" x2="27.5" y2="342" stroke-width="0.56"/>
</g>
<g stroke="#333" stroke-width="0.52" fill="none">
<line x1="51.50" y1="336.0" x2="51.50" y2="332.2"/>
<line x1="75.50" y1="336.0" x2="75.50" y2="332.2"/>
<line x1="100.50" y1="336.0" x2="100.50" y2="332.2"/>
<line x1="124.50" y1="336.0" x2="124.50" y2="332.2"/>
<line x1="148.50" y1="336.0" x2="148.50" y2="330.0"/>
<line x1="172.50" y1="336.0" x2="172.50" y2="332.2"/>
<line x1="196.50" y1="336.0" x2="196.50" y2="332.2"/>
<line x1="221.50" y1="336.0" x2="221.50" y2="332.2"/>
<line x1="245.50" y1="336.0" x2="245.50" y2="332.2"/>
<line x1="269.50" y1="336.0" x2="269.50" y2="330.0"/>
<line x1="293.50" y1="336.0" x2="293.50" y2="332.2"/>
<line x1="318.50" y1="336.0" x2="318.50" y2="332.2"/>
<line x1="342.50" y1="336.0" x2="342.50" y2="332.2"/>
<line x1="366.50" y1="336.0" x2="366.50" y2="332.2"/>
<line x1="390.50" y1="336.0" x2="390.50" y2="330.0"/>
<line x1="415.50" y1="336.0" x2="415.50" y2="332.2"/>
<line x1="439.50" y1="336.0" x2="439.50" y2="332.2"/>
<line x1="463.50" y1="336.0" x2="463.50" y2="332.2"/>
<line x1="487.50" y1="336.0" x2="487.50" y2="332.2"/>
<line x1="512.50" y1="336.0" x2="512.50" y2="330.0"/>
</g>
<g stroke="#333" stroke-width="0.6" fill="none">
<line x1="27.5" y1="320.50" x2="30.9" y2="320.50"/>
<line x1="27.5" y1="304.50" x2="30.9" y2="304.50"/>
<line x1="27.5" y1="289.50" x2="30.9" y2="289.50"/>
<line x1="27.5" y1="273.50" x2="30.9" y2="273.50"/>
<line x1="27.5" y1="258.50" x2="33.1" y2="258.50"/>
<line x1="27.5" y1="242.50" x2="30.9" y2="242.50"/>
<line x1="27.5" y1="227.50" x2="30.9" y2="227.50"/>
<line x1="27.5" y1="211.50" x2="30.9" y2="211.50"/>
<line x1="27.5" y1="196.50" x2="30.9" y2="196.50"/>
<line x1="27.5" y1="180.50" x2="33.1" y2="180.50"/>
<line x1="27.5" y1="165.50" x2="30.9" y2="165.50"/>
<line x1="27.5" y1="149.50" x2="30.9" y2="149.50"/>
<line x1="27.5" y1="134.50" x2="30.9" y2="134.50"/>
<line x1="27.5" y1="118.50" x2="30.9" y2="118.50"/>
<line x1="27.5" y1="103.50" x2="33.1" y2="103.50"/>
<line x1="27.5" y1="87.50" x2="30.9" y2="87.50"/>
<line x1="27.5" y1="72.50" x2="30.9" y2="72.50"/>
<line x1="27.5" y1="56.50" x2="30.9" y2="56.50"/>
<line x1="27.5" y1="41.50" x2="30.9" y2="41.50"/>
</g>
<g class="lbl" fill="#000">
<text transform="translate(148.15,356.9) scale(1,1.065)" text-anchor="middle">0.5</text>
<text transform="translate(270.15,356.9) scale(1,1.065)" text-anchor="middle">1.0</text>
<text transform="translate(391.05,356.9) scale(1,1.065)" text-anchor="middle">1.5</text>
<text transform="translate(512.55,356.9) scale(1,1.065)" text-anchor="middle">2.0</text>
<text transform="translate(22.10,264.95) scale(1,1.065)" text-anchor="end">0.5</text>
<text transform="translate(22.65,187.45) scale(1,1.065)" text-anchor="end">1.0</text>
<text transform="translate(22.65,109.95) scale(1,1.065)" text-anchor="end">1.5</text>
<text x="534.6" y="341.5" class="it">k</text>
<text x="20.6" y="17" class="it" style="font-size:19.5px">ω</text>
</g>
</svg>
</body></html>
